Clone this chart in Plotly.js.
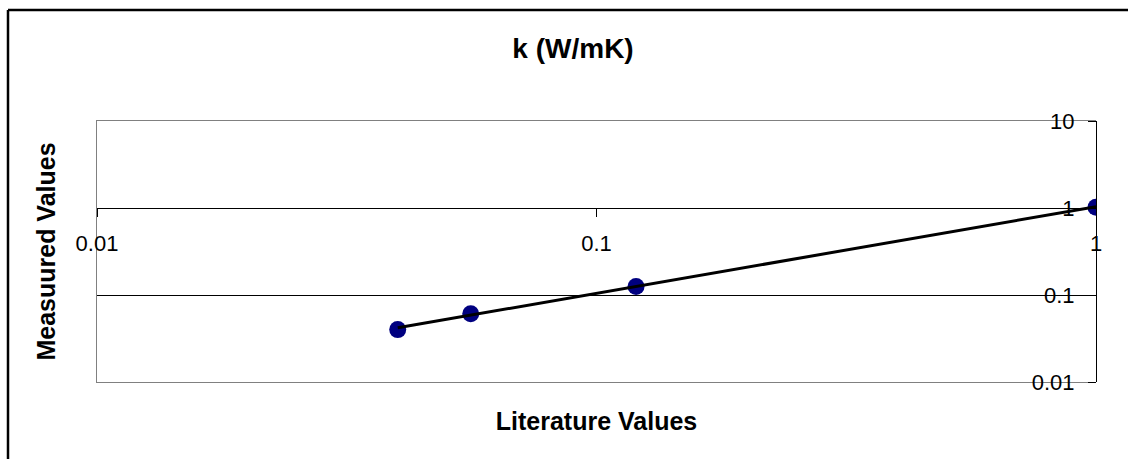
<!DOCTYPE html>
<html>
<head>
<meta charset="utf-8">
<script src="https://cdn.plot.ly/plotly-3.0.1.min.js"></script>
<style>
  html, body { margin: 0; padding: 0; background: #ffffff; overflow: hidden; }
  #chart { width: 1128px; height: 459px; }
</style>
</head>
<body>
<div id="chart"></div>
<script>
// Data
const literatureValues = [0.04, 0.056, 0.12, 1.0];
const measuredValues   = [0.04, 0.061, 0.125, 1.02];
// Power trendline endpoints (as drawn)
const trendX = [0.04, 1.0];
const trendY = [0.042, 1.035];
// Tick labels
const xTickVals = [0.01, 0.1, 1];
const xTickText = ['0.01', '0.1', '1'];
const yTickVals = [0.01, 0.1, 1, 10];
const yTickText = ['0.01', '0.1', '1', '10'];

const FONT = 'Liberation Sans, Arial, Helvetica, sans-serif';

const traces = [
  {
    type: 'scatter', mode: 'markers',
    x: literatureValues, y: measuredValues,
    xaxis: 'x', yaxis: 'y',
    marker: { color: '#000080', size: 17, line: { width: 0 } },
    showlegend: false, hoverinfo: 'x+y'
  },
  {
    type: 'scatter', mode: 'lines',
    x: trendX, y: trendY,
    xaxis: 'x2', yaxis: 'y2',
    line: { color: '#000000', width: 3 },
    showlegend: false, hoverinfo: 'skip'
  }
];

// outer chart frame: top and left edges only (the rest runs off the picture)
const frameLeft = (8 - 97) / 999;
const frameTop = 1 + (121 - 10) / 261;

const layout = {
  width: 1128, height: 459,
  margin: { l: 97, r: 32, t: 121, b: 77, pad: 0 },
  paper_bgcolor: '#ffffff', plot_bgcolor: '#ffffff',
  font: { family: FONT, color: '#000000' },
  showlegend: false,
  title: {
    text: '<b>k (W/mK)</b>',
    font: { family: FONT, size: 28, color: '#000000' },
    x: 0.508, xanchor: 'center', xref: 'container',
    y: 0.895, yanchor: 'middle', yref: 'container'
  },
  xaxis: {
    type: 'log', range: [-2, 0], fixedrange: true,
    showline: true, linecolor: '#808080', linewidth: 1, mirror: true,
    showgrid: false, zeroline: false, ticks: '', showticklabels: false,
    title: { text: '<b>Literature Values</b>', font: { family: FONT, size: 25, color: '#000000' }, standoff: 30 }
  },
  yaxis: {
    type: 'log', range: [-2, 1], fixedrange: true,
    showline: true, linecolor: '#808080', linewidth: 1, mirror: false,
    showgrid: true, gridcolor: '#000000', gridwidth: 1,
    tickvals: yTickVals, zeroline: false, ticks: '', showticklabels: false,
    title: { text: '<b>Measuured Values</b>', font: { family: FONT, size: 25, color: '#000000' }, standoff: 33 }
  },
  xaxis2: {
    type: 'log', range: [-2, 0], fixedrange: true,
    overlaying: 'x', anchor: 'free', position: 2 / 3, side: 'bottom',
    showline: true, linecolor: '#000000', linewidth: 1,
    showgrid: false, zeroline: false,
    ticks: 'outside', ticklen: 8, tickwidth: 1, tickcolor: '#000000',
    tickvals: xTickVals, ticktext: xTickText,
    tickfont: { family: FONT, size: 22, color: '#000000' },
    ticklabelstandoff: 8
  },
  yaxis2: {
    type: 'log', range: [-2, 1], fixedrange: true,
    overlaying: 'y', anchor: 'free', position: 1, side: 'left',
    showline: true, linecolor: '#000000', linewidth: 1,
    showgrid: false, zeroline: false,
    ticks: 'outside', ticklen: 8, tickwidth: 1, tickcolor: '#000000',
    tickvals: yTickVals, ticktext: yTickText,
    tickfont: { family: FONT, size: 22, color: '#000000' },
    ticklabelstandoff: 9
  },
  shapes: [
    { type: 'line', xref: 'paper', yref: 'paper', x0: frameLeft, x1: 1.05, y0: frameTop, y1: frameTop,
      line: { color: '#000000', width: 2.5 }, layer: 'above' },
    { type: 'line', xref: 'paper', yref: 'paper', x0: frameLeft, x1: frameLeft, y0: -0.3, y1: frameTop,
      line: { color: '#000000', width: 2.5 }, layer: 'above' }
  ]
};

Plotly.newPlot('chart', traces, layout, { displayModeBar: false, staticPlot: true });
</script>
</body>
</html>
